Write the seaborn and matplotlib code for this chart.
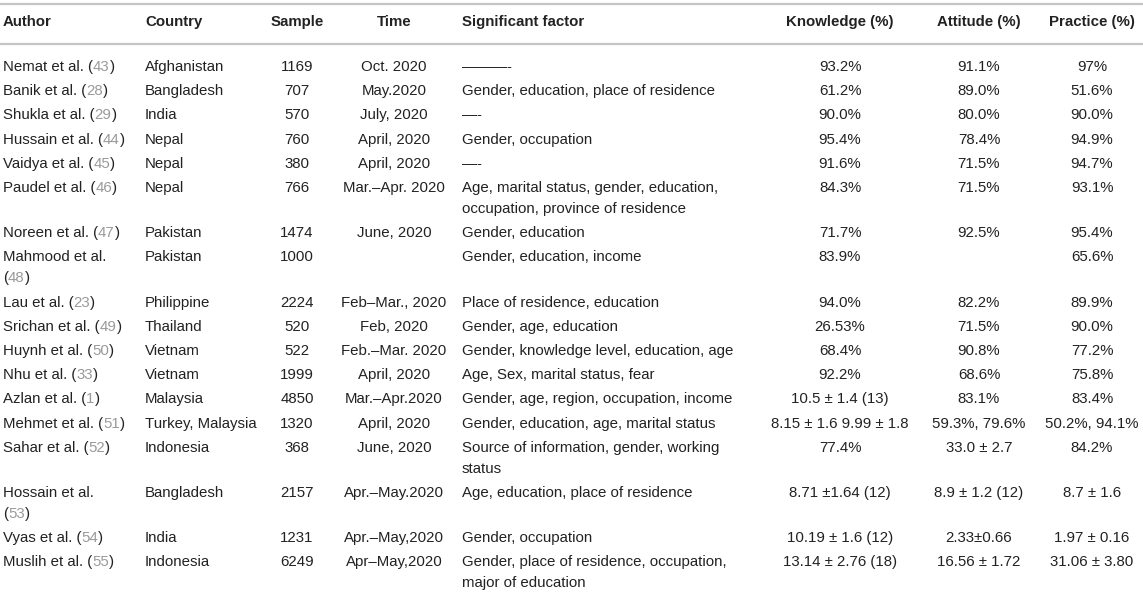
import numpy as np
import pandas as pd
import matplotlib
matplotlib.use("Agg")
import matplotlib.pyplot as plt
import seaborn as sns

# table content
authors = ["Nemat et al.", "Banik et al.", "Shukla et al.", "Hussain et al.", "Vaidya et al.",
           "Paudel et al.", "Noreen et al.", "Mahmood et al.", "Lau et al.", "Srichan et al.",
           "Huynh et al.", "Nhu et al.", "Azlan et al.", "Mehmet et al.", "Sahar et al.",
           "Hossain et al.", "Vyas et al.", "Muslih et al."]
refs = ["43", "28", "29", "44", "45", "46", "47", "48", "23", "49", "50", "33", "1", "51",
        "52", "53", "54", "55"]
wrapped_refs = ["Mahmood et al.", "Hossain et al."]
countries = ["Afghanistan", "Bangladesh", "India", "Nepal", "Nepal", "Nepal", "Pakistan",
             "Pakistan", "Philippine", "Thailand", "Vietnam", "Vietnam", "Malaysia",
             "Turkey, Malaysia", "Indonesia", "Bangladesh", "India", "Indonesia"]
samples = [1169, 707, 570, 760, 380, 766, 1474, 1000, 2224, 520, 522, 1999, 4850, 1320,
           368, 2157, 1231, 6249]
times = ["Oct. 2020", "May.2020", "July, 2020", "April, 2020", "April, 2020",
         "Mar.\u2013Apr. 2020", "June, 2020", "", "Feb\u2013Mar., 2020", "Feb, 2020",
         "Feb.\u2013Mar. 2020", "April, 2020", "Mar.\u2013Apr.2020", "April, 2020",
         "June, 2020", "Apr.\u2013May.2020", "Apr.\u2013May,2020", "Apr\u2013May,2020"]
factors = ["\u2014\u2014\u2014-",
           "Gender, education, place of residence",
           "\u2014-",
           "Gender, occupation",
           "\u2014-",
           "Age, marital status, gender, education,\noccupation, province of residence",
           "Gender, education",
           "Gender, education, income",
           "Place of residence, education",
           "Gender, age, education",
           "Gender, knowledge level, education, age",
           "Age, Sex, marital status, fear",
           "Gender, age, region, occupation, income",
           "Gender, education, age, marital status",
           "Source of information, gender, working\nstatus",
           "Age, education, place of residence",
           "Gender, occupation",
           "Gender, place of residence, occupation,\nmajor of education"]
knowledge = ["93.2%", "61.2%", "90.0%", "95.4%", "91.6%", "84.3%", "71.7%", "83.9%", "94.0%",
             "26.53%", "68.4%", "92.2%", "10.5 \u00b1 1.4 (13)", "8.15 \u00b1 1.6 9.99 \u00b1 1.8",
             "77.4%", "8.71 \u00b11.64 (12)", "10.19 \u00b1 1.6 (12)", "13.14 \u00b1 2.76 (18)"]
attitude = ["91.1%", "89.0%", "80.0%", "78.4%", "71.5%", "71.5%", "92.5%", "", "82.2%",
            "71.5%", "90.8%", "68.6%", "83.1%", "59.3%, 79.6%", "33.0 \u00b1 2.7",
            "8.9 \u00b1 1.2 (12)", "2.33\u00b10.66", "16.56 \u00b1 1.72"]
practice = ["97%", "51.6%", "90.0%", "94.9%", "94.7%", "93.1%", "95.4%", "65.6%", "89.9%",
            "90.0%", "77.2%", "75.8%", "83.4%", "50.2%, 94.1%", "84.2%", "8.7 \u00b1 1.6",
            "1.97 \u00b1 0.16", "31.06 \u00b1 3.80"]
headers = ["Author", "Country", "Sample", "Time", "Significant factor",
           "Knowledge (%)", "Attitude (%)", "Practice (%)"]

df = pd.DataFrame({"Country": countries, "Sample": [str(s) for s in samples],
                   "Time": times, "Significant factor": factors,
                   "Knowledge (%)": knowledge, "Attitude (%)": attitude,
                   "Practice (%)": practice})

sns.set_theme(style="white")
plt.rcParams["font.family"] = ["Liberation Sans", "DejaVu Sans"]

W, H = 1143, 594
fig = plt.figure(figsize=(W / 100, H / 100), dpi=100)
ax = fig.add_axes([0, 0, 1, 1])
ax.set_xlim(0, W)
ax.set_ylim(H, 0)
ax.axis("off")

fs = 10.8
ink = "#222222"
grey_ref = "#9a9a9a"
rule = "#c4c4c4"

# column x positions and alignment
col_x = {"Author": 3, "Country": 145, "Sample": 297, "Time": 394,
         "Significant factor": 462, "Knowledge (%)": 840, "Attitude (%)": 979,
         "Practice (%)": 1092}
col_ha = {"Author": "left", "Country": "left", "Sample": "center", "Time": "center",
          "Significant factor": "left", "Knowledge (%)": "center",
          "Attitude (%)": "center", "Practice (%)": "center"}

header_y = 22
first_y = 67
row_step = 24.2
line_step = 21

ax.axhline(3.5, color=rule, lw=1.6)
ax.axhline(43.5, color=rule, lw=1.6)

for h in headers:
    ax.text(col_x[h], header_y, h, ha=col_ha[h], va="center", fontsize=fs,
            fontweight="bold", color=ink)


def chain(prev, s, color):
    return ax.annotate(s, xy=(1, 0), xycoords=prev, ha="left", va="bottom",
                       fontsize=fs, color=color)


y = first_y
for i, name in enumerate(authors):
    nlines = max(1 + (name in wrapped_refs),
                 max(str(v).count("\n") + 1 for v in df.iloc[i]))
    if name in wrapped_refs:
        ax.text(col_x["Author"], y, name, ha="left", va="center", fontsize=fs, color=ink)
        t = ax.text(col_x["Author"], y + line_step, "(", ha="left", va="center",
                    fontsize=fs, color=ink)
    else:
        t = ax.text(col_x["Author"], y, name + " (", ha="left", va="center",
                    fontsize=fs, color=ink)
    t = chain(t, refs[i], grey_ref)
    chain(t, ")", ink)

    for c in df.columns:
        for k, line in enumerate(str(df.loc[i, c]).split("\n")):
            ax.text(col_x[c], y + k * line_step, line, ha=col_ha[c], va="center",
                    fontsize=fs, color=ink)
    y += row_step + (nlines - 1) * line_step

fig.savefig("out.png", dpi=100, facecolor="white")
